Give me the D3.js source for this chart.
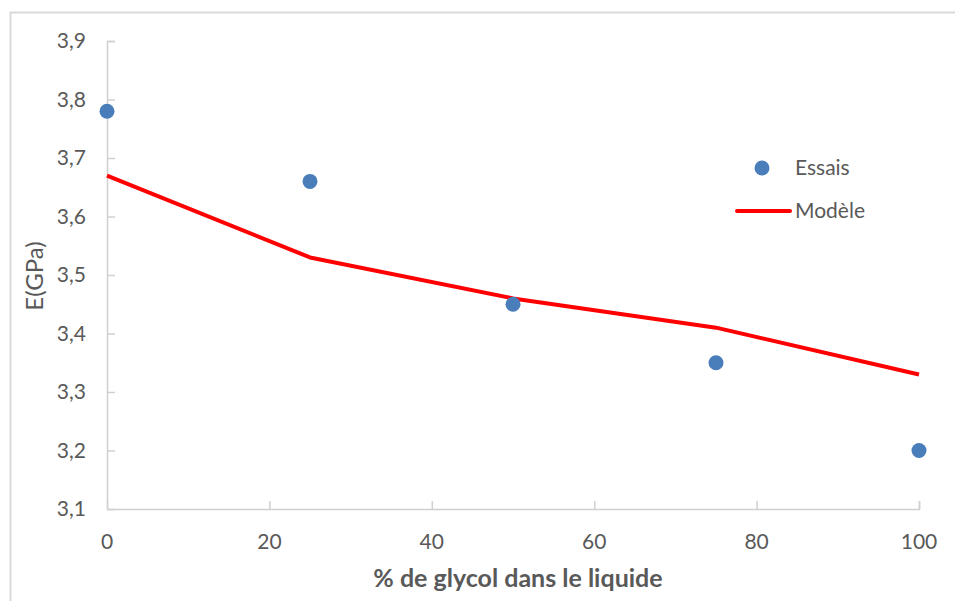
<!DOCTYPE html>
<html><head><meta charset="utf-8">
<script src="https://cdn.jsdelivr.net/npm/d3@7"></script>
<style>body{margin:0;background:#fff}svg{display:block}text{font-family:Lato,"Open Sans",sans-serif;fill:#595959}</style>
</head><body><svg id="c" width="955" height="601"></svg>
<script>
const glycol = [0, 25, 50, 75, 100];
const essais = [3.78, 3.66, 3.45, 3.35, 3.20];
const modele = [3.67, 3.53, 3.46, 3.41, 3.33];
const xTicks = [0, 20, 40, 60, 80, 100];
const yTicks = [3.1, 3.2, 3.3, 3.4, 3.5, 3.6, 3.7, 3.8, 3.9];
const xTitle = "% de glycol dans le liquide";
const yTitle = "E(GPa)";
const legendLabels = ["Essais", "Modèle"];

const svg = d3.select("#c");
svg.append("rect").attr("x",10.5).attr("y",12.5).attr("width",960).attr("height",620)
  .attr("fill","#fff").attr("stroke","#d9d9d9").attr("stroke-width",2);

const x = d3.scaleLinear().domain([0,100]).range([107,919]);
const y = d3.scaleLinear().domain([3.1,3.9]).range([509,41]);
const FS = 21;

const fmt = d => d.toFixed(1).replace(".", ",");
const gy = svg.append("g").attr("transform","translate(107,0)")
  .call(d3.axisRight(y).tickValues(yTicks).tickSize(8).tickFormat(""));
gy.select(".domain").attr("stroke","#d0d0d0").attr("stroke-width",1.5).attr("d","M8,41.5H0.5V509.5");
gy.selectAll(".tick line").attr("stroke","#d0d0d0").attr("stroke-width",1.5);
svg.append("g").selectAll("text").data(yTicks).join("text")
  .attr("x",86).attr("y",d=>y(d)).attr("dy","0.35em").attr("text-anchor","end")
  .attr("font-size",FS).text(fmt);

const gx = svg.append("g").attr("transform","translate(0,509)")
  .call(d3.axisTop(x).tickValues(xTicks).tickSize(8).tickFormat(""));
gx.select(".domain").attr("stroke","#d0d0d0").attr("stroke-width",1.5).attr("d","M107,0.5H919.5V-8");
gx.selectAll(".tick line").attr("stroke","#d0d0d0").attr("stroke-width",1.5);
svg.append("g").selectAll("text").data(xTicks).join("text")
  .attr("x",d=>x(d)).attr("y",542).attr("dy","0.35em").attr("text-anchor","middle")
  .attr("font-size",FS).text(d=>d);

svg.append("text").attr("x",518).attr("y",578).attr("dy","0.35em").attr("text-anchor","middle")
  .attr("font-size",25).attr("font-weight","bold").text(xTitle);
svg.append("text").attr("transform","translate(35,276) rotate(-90)").attr("dy","0.35em")
  .attr("text-anchor","middle").attr("font-size",24).text(yTitle);

svg.append("path").datum(glycol.map((g,i)=>[g,modele[i]]))
  .attr("d", d3.line().x(d=>x(d[0])).y(d=>y(d[1])))
  .attr("fill","none").attr("stroke","#ff0000").attr("stroke-width",4).attr("stroke-linejoin","round");

svg.append("g").selectAll("circle").data(glycol.map((g,i)=>[g,essais[i]])).join("circle")
  .attr("cx",d=>x(d[0])).attr("cy",d=>y(d[1])).attr("r",7.5).attr("fill","#4a7ebb");

// legend
svg.append("circle").attr("cx",762).attr("cy",168).attr("r",7.5).attr("fill","#4a7ebb");
svg.append("line").attr("x1",737).attr("x2",790).attr("y1",211).attr("y2",211)
  .attr("stroke","#ff0000").attr("stroke-width",4).attr("stroke-linecap","round");
svg.append("text").attr("x",795).attr("y",168).attr("dy","0.35em").attr("font-size",FS).text(legendLabels[0]);
svg.append("text").attr("x",795).attr("y",211).attr("dy","0.35em").attr("font-size",FS).text(legendLabels[1]);
</script></body></html>
